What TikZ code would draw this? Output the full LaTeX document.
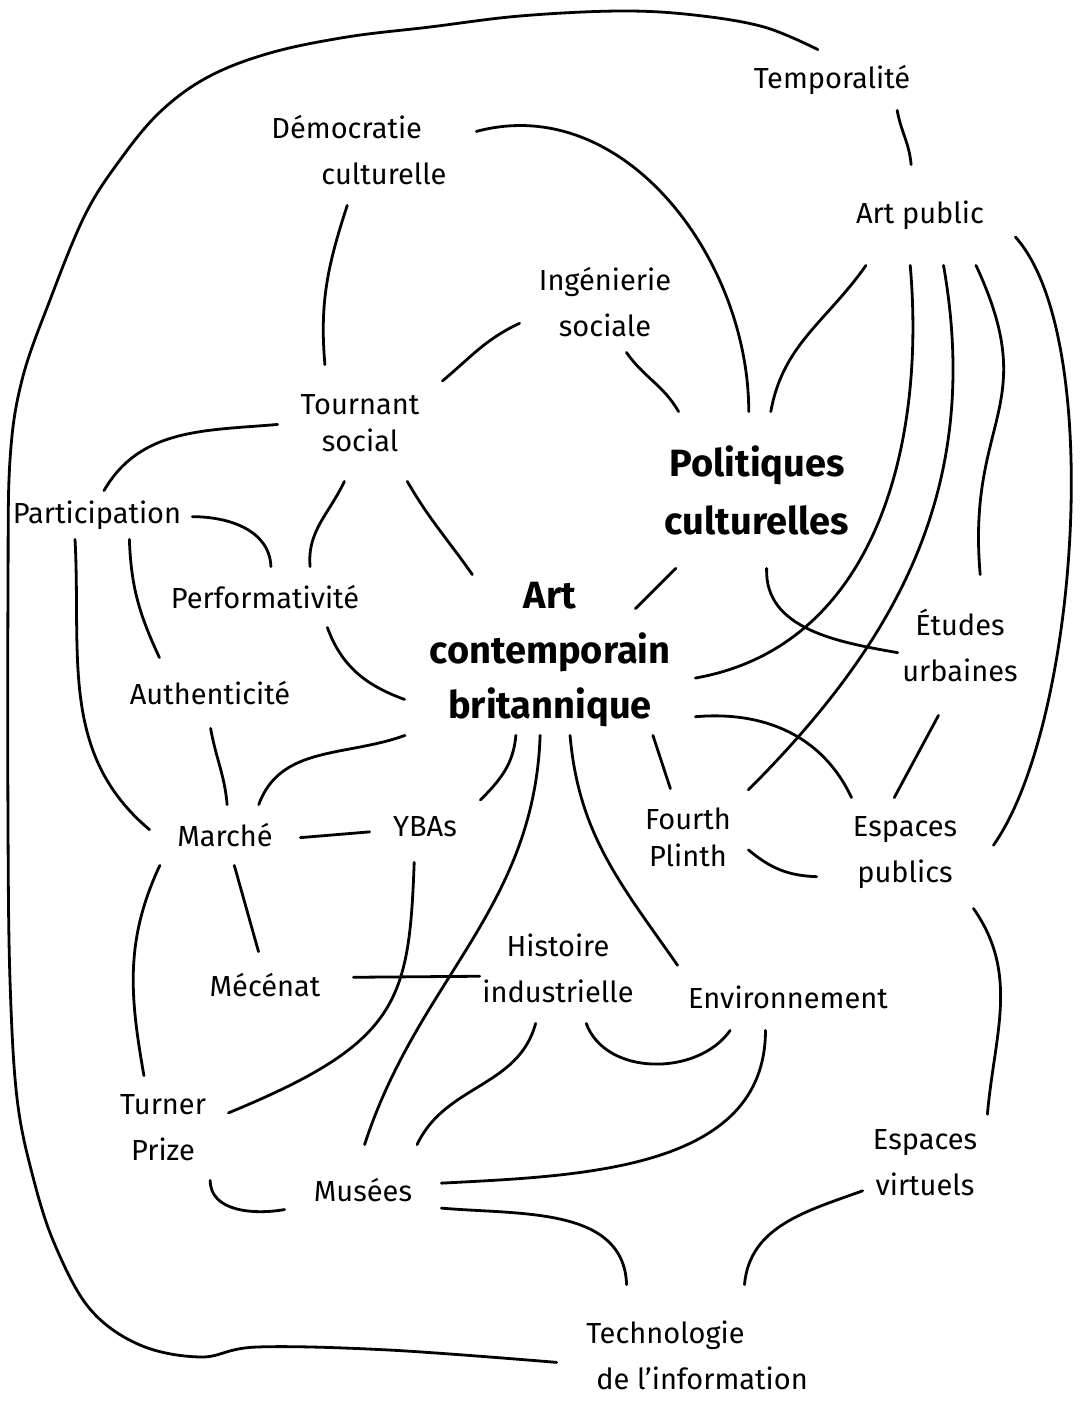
\documentclass[tikz,border=0pt]{standalone}
\usepackage{fontspec}
\setmainfont{Fira Sans}

\begin{document}
\begin{tikzpicture}[x=0.5pt,y=0.5pt,
    concept/.style={inner sep=0pt,align=center,font=\fontsize{14.5}{23}\selectfont},
    keyconcept/.style={inner sep=0pt,align=center,font=\fontsize{19}{28}\selectfont\bfseries},
    link/.style={line width=1.4pt,line cap=round}]
  \useasboundingbox (0,0) rectangle (1082,-1412);

  \node[concept,minimum width=86pt,minimum height=30pt] (temp) at (832,-80) {Temporalité};
  \node[concept,align=left,minimum width=117pt,minimum height=55pt] (demo) at (359,-150) {Démocratie\\\hspace*{25pt}culturelle};
  \node[concept,minimum width=95pt,minimum height=50pt] (artpub) at (920,-215) {Art public};
  \node[concept,minimum width=85pt,minimum height=50pt] (inge) at (605,-302) {Ingénierie\\sociale};
  \node[concept,font=\fontsize{14.5}{18.5}\selectfont,minimum width=82pt,minimum height=58pt] (tourn) at (360,-423) {Tournant\\social};
  \node[keyconcept,font=\fontsize{19}{29}\selectfont\bfseries,minimum width=100pt,minimum height=78pt] (pol) at (757,-490) {Politiques\\culturelles};
  \node[concept,minimum width=95pt,minimum height=24pt] (part) at (97,-515) {Participation};
  \node[concept,minimum width=95pt,minimum height=30pt] (perf) at (265,-597) {Performativité};
  \node[keyconcept,font=\fontsize{19}{27.5}\selectfont\bfseries,minimum width=145pt,minimum height=80pt] (art) at (550,-655) {Art\\contemporain\\britannique};
  \node[concept,minimum width=62pt,minimum height=70pt] (etu) at (960,-645) {Études\\urbaines};
  \node[concept,minimum width=88pt,minimum height=35pt] (auth) at (210,-693) {Authenticité};
  \node[concept,minimum width=75pt,minimum height=30pt] (marche) at (225,-835) {Marché};
  \node[concept,minimum width=55pt,minimum height=35pt] (ybas) at (425,-827) {YBAs};
  \node[concept,font=\fontsize{14.5}{18.5}\selectfont,minimum width=60pt,minimum height=48pt] (fourth) at (688,-837) {Fourth\\Plinth};
  \node[concept,minimum width=88pt,minimum height=55pt] (esppub) at (905,-853) {Espaces\\publics};
  \node[concept,minimum width=88pt,minimum height=33pt] (mecenat) at (265,-985) {Mécénat};
  \node[concept,minimum width=78pt,minimum height=55pt] (hist) at (558,-968) {Histoire\\industrielle};
  \node[concept,minimum width=110pt,minimum height=33pt] (env) at (788,-997) {Environnement};
  \node[concept,minimum width=65pt,minimum height=52pt] (turner) at (163,-1128) {Turner\\Prize};
  \node[concept,minimum width=78pt,minimum height=45pt] (musees) at (363,-1190) {Musées};
  \node[concept,minimum width=62pt,minimum height=52pt] (espvirt) at (925,-1163) {Espaces\\virtuels};
  \node[concept,align=left,minimum width=140pt,minimum height=70pt] (tech) at (697,-1355) {Technologie\\\hspace*{5pt}de l’information};

  \draw[link] plot[smooth,tension=0.6] coordinates {(temp.115) (764,-27) (694,-15) (620,-11) (520,-16) (430,-27) (347,-37) (270,-53) (208,-77) (160,-112) (120,-160) (85,-215) (50,-300) (22,-380) (10,-460) (8,-590) (8,-825) (10,-980) (17,-1098) (33,-1177) (55,-1245) (90,-1309) (140,-1345) (201,-1357) (257,-1347) (389,-1350) (tech.183)};

  \draw[link] (temp.-25) to[out=-80,in=95] (artpub.100);
  \draw[link] (demo.9) to[out=15,in=90] (pol.96);
  \draw[link] (demo.-102) to[out=-108,in=95] (tourn.121);
  \draw[link] (artpub.-137) to[out=-125,in=80] (pol.80);
  \draw[link] (artpub.-101) to[out=-85,in=10] (art.-9);
  \draw[link] (artpub.-65) to[out=-80,in=45] (fourth.38);
  \draw[link] (artpub.-42) to[out=-65,in=95,looseness=1.3] (etu.74);
  \draw[link] (artpub.-13) .. controls +(90,-100) and +(85,120) .. (esppub.5);
  \draw[link] (inge.194) to[out=205,in=40] (tourn.27);
  \draw[link] (inge.-67) to[out=-55,in=120] (pol.135);
  \draw[link] (tourn.181) to[out=185,in=60] (part.74);
  \draw[link] (tourn.-105) to[out=-115,in=95] (perf.34);
  \draw[link] (tourn.-51) to[out=-60,in=125] (art.134);
  \draw[link] (part.-1) to[out=0,in=92] (perf.79);
  \draw[link] (part.-37) to[out=-88,in=115] (auth.145);
  \draw[link] (part.-132) to[out=-87,in=140] (marche.176);
  \draw[link] (perf.-26) to[out=-70,in=160] (art.197);
  \draw[link] (pol.-136) -- ([xshift=-30pt,yshift=-17pt]art.north east);
  \draw[link] (pol.-83) to[out=-92,in=170] (etu.187);
  \draw[link] (auth.-89) to[out=-80,in=95] (marche.86);
  \draw[link] (art.209) to[out=200,in=70] (marche.42);
  \draw[link] (art.-113) to[out=-95,in=45] (ybas.26);
  \draw[link] (art.-97) to[out=-92,in=72] (musees.88);
  \draw[link] (art.-76) to[out=-85,in=125] (env.164);
  \draw[link] (art.-38) -- (fourth.110);
  \draw[link] (art.-23) to[out=5,in=115] (esppub.134);
  \draw[link] (etu.-107) -- (esppub.101);
  \draw[link] (fourth.-12) to[out=-40,in=178] (esppub.195);
  \draw[link] (marche.-2) -- (ybas.185);
  \draw[link] (marche.-73) -- (mecenat.101);
  \draw[link] (marche.205) to[out=-115,in=100] (turner.110);
  \draw[link] (ybas.-107) .. controls +(-5,-140) and +(170,70) .. (turner.13);
  \draw[link] (mecenat.5) -- (hist.186);
  \draw[link] (hist.-112) to[out=-105,in=65] (musees.40);
  \draw[link] (hist.-63) to[out=-70,in=-125] (env.-150);
  \draw[link] (env.-124) to[out=-90,in=3] (musees.5);
  \draw[link] (turner.-48) to[out=-90,in=190] (musees.194);
  \draw[link] (musees.-13) to[out=-5,in=92] (tech.135);
  \draw[link] (espvirt.204) to[out=200,in=85] (tech.56);
  \draw[link] (esppub.-39) to[out=-55,in=85] (espvirt.38);
\end{tikzpicture}
\end{document}
